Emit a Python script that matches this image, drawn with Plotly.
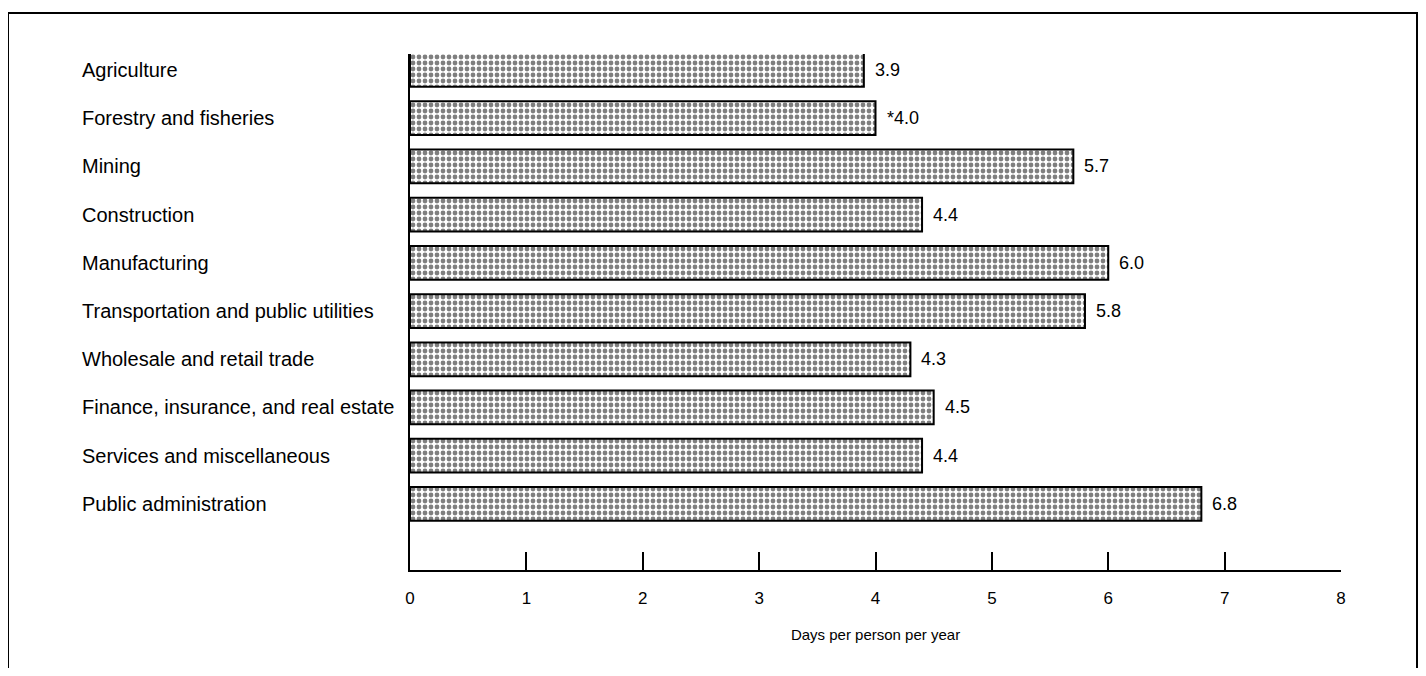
import plotly.graph_objects as go

# categories and values
industries = [
    "Agriculture",
    "Forestry and fisheries",
    "Mining",
    "Construction",
    "Manufacturing",
    "Transportation and public utilities",
    "Wholesale and retail trade",
    "Finance, insurance, and real estate",
    "Services and miscellaneous",
    "Public administration",
]
days = [3.9, 4.0, 5.7, 4.4, 6.0, 5.8, 4.3, 4.5, 4.4, 6.8]
value_labels = ["3.9", "*4.0", "5.7", "4.4", "6.0", "5.8", "4.3", "4.5", "4.4", "6.8"]
x_ticks = [0, 1, 2, 3, 4, 5, 6, 7, 8]

# the page body has an 8px margin, so figure coords = screen coords - 8
W, H = 1410, 660
left, top = 402, 46
plot_w, plot_h = 931, 516
right = W - left - plot_w
bottom = H - top - plot_h

font = "Liberation Sans, Arial, sans-serif"

fig = go.Figure()
fig.add_trace(go.Bar(
    x=days,
    y=industries,
    orientation="h",
    marker=dict(
        color="white",
        line=dict(color="black", width=2),
        pattern=dict(shape=".", fgcolor="black", bgcolor="white", size=6, solidity=0.5),
    ),
    hoverinfo="skip",
))

# value labels to the right of each bar
for ind, val, lab in zip(industries, days, value_labels):
    fig.add_annotation(
        x=val, y=ind, text=lab, xref="x", yref="y",
        xanchor="left", yanchor="middle", xshift=9, showarrow=False,
        font=dict(family=font, size=18, color="black"),
    )

# category labels, left aligned
for ind in industries:
    fig.add_annotation(
        x=(72 - left) / plot_w, y=ind, text=ind, xref="paper", yref="y",
        xanchor="left", yanchor="middle", showarrow=False,
        font=dict(family=font, size=20, color="black"),
    )

# outer frame (open at the bottom of the page)
fig.add_shape(
    type="rect", xref="paper", yref="paper",
    x0=(0 - left) / plot_w, x1=(1409 - left) / plot_w,
    y0=(plot_h + top - 720) / plot_h, y1=(plot_h + top - 5) / plot_h,
    line=dict(color="black", width=2), fillcolor="rgba(0,0,0,0)",
)

fig.update_layout(
    width=W, height=H,
    margin=dict(l=left, r=right, t=top, b=bottom),
    paper_bgcolor="white", plot_bgcolor="white",
    showlegend=False,
    bargap=0.3,
    font=dict(family=font, color="black"),
)
fig.update_xaxes(
    range=[0, 8], tickvals=x_ticks,
    showline=True, linecolor="black", linewidth=2,
    ticks="inside", ticklen=18, tickwidth=2, tickcolor="black",
    ticklabelstandoff=12,
    tickfont=dict(size=17),
    showgrid=False, zeroline=False,
    title=dict(text="Days per person per year", font=dict(size=15), standoff=22),
)
fig.update_yaxes(
    categoryorder="array", categoryarray=industries,
    range=[len(industries) + 0.37, -0.33],
    showline=True, linecolor="black", linewidth=2,
    showticklabels=False, ticks="",
    showgrid=False, zeroline=False,
)

fig.write_html("out.html")
